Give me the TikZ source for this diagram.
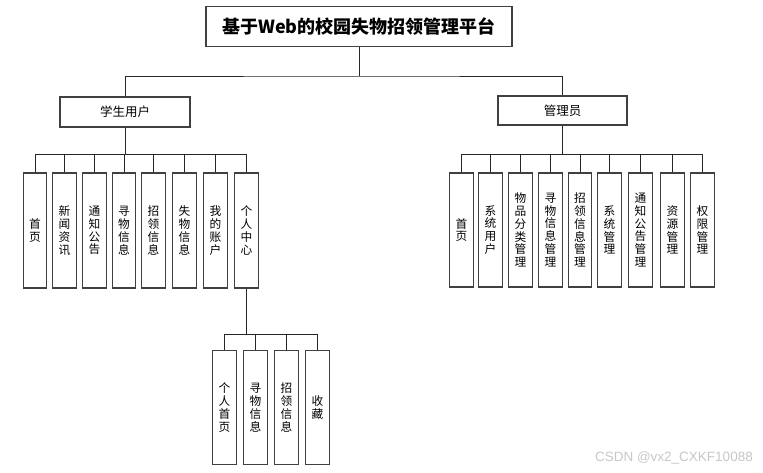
\documentclass[tikz,border=0pt]{standalone}
\usepackage{fontspec}
\setmainfont{Noto Sans CJK SC}
\newfontfamily\wmfont{Liberation Sans}
\begin{document}
\begin{tikzpicture}[x=1pt,y=-1pt,
  conn/.style={draw=black!85,line width=0.9pt},
  box/.style={draw=black!75,line width=1.1pt,fill=white,inner sep=0pt},
  hbox/.style={box,minimum width=130pt,minimum height=30pt,font=\fontsize{12.5}{14}\selectfont},
  vbox/.style={box,minimum width=23.5pt,minimum height=115pt,align=center,font=\fontsize{11.7}{12.8}\selectfont}]
\useasboundingbox (0,0) rectangle (763,472);
% title
\node[box,minimum width=306pt,minimum height=40pt,font=\fontsize{18}{20}\selectfont\bfseries] (title) at (359,26.5) {基于Web的校园失物招领管理平台};
\node[hbox] (stu) at (125,112) {学生用户};
\node[hbox,minimum width=129pt,minimum height=29pt] (adm) at (562.5,110.5) {管理员};
\coordinate (tj) at (359,76);
\draw[conn] (title.south) -- (tj);
\draw[conn] (stu.north) |- (tj) -| (adm.north);
% student children
\foreach \n/\x/\t in {s1/35/首\\页, s2/64.5/新\\闻\\资\\讯, s3/94.5/通\\知\\公\\告, s4/124/寻\\物\\信\\息, s5/153.5/招\\领\\信\\息, s6/184.5/失\\物\\信\\息, s7/215.5/我\\的\\账\\户, s8/246.5/个\\人\\中\\心}{
  \node[vbox] (\n) at (\x,230.5) {\t};
}
\coordinate (sj) at (125,154);
\draw[conn] (stu.south) -- (sj);
\foreach \n in {s1,s2,s3,s4,s5,s6,s7,s8}{
  \draw[conn] (sj) -| (\n.north);
}
% admin children
\foreach \n/\x/\t in {a1/461.5/首\\页, a2/490.5/系\\统\\用\\户, a3/520.5/物\\品\\分\\类\\管\\理, a4/550.5/寻\\物\\信\\息\\管\\理, a5/580/招\\领\\信\\息\\管\\理, a6/609.5/系\\统\\管\\理, a7/640.5/通\\知\\公\\告\\管\\理, a8/672.5/资\\源\\管\\理, a9/702.5/权\\限\\管\\理}{
  \node[vbox,minimum height=114pt] (\n) at (\x,230) {\t};
}
\coordinate (aj) at (562.5,154);
\draw[conn] (adm.south) -- (aj);
\foreach \n in {a1,a2,a3,a4,a5,a6,a7,a8,a9}{
  \draw[conn] (aj) -| (\n.north);
}
% personal center children
\foreach \n/\x/\t in {p1/224.5/个\\人\\首\\页, p2/255.5/寻\\物\\信\\息, p3/286.5/招\\领\\信\\息, p4/317.5/收\\藏}{
  \node[vbox,minimum height=114pt] (\n) at (\x,407.5) {\t};
}
\coordinate (pj) at (246.5,334);
\draw[conn] (s8.south) -- (pj);
\foreach \n in {p1,p2,p3,p4}{
  \draw[conn] (pj) -| (\n.north);
}
% watermark
\node[font=\wmfont\fontsize{13.5}{14}\selectfont,text=black!22,anchor=east,inner sep=0pt] (wm) at (753,458) {CSDN @vx2\_CXKF10088};
\end{tikzpicture}
\end{document}
